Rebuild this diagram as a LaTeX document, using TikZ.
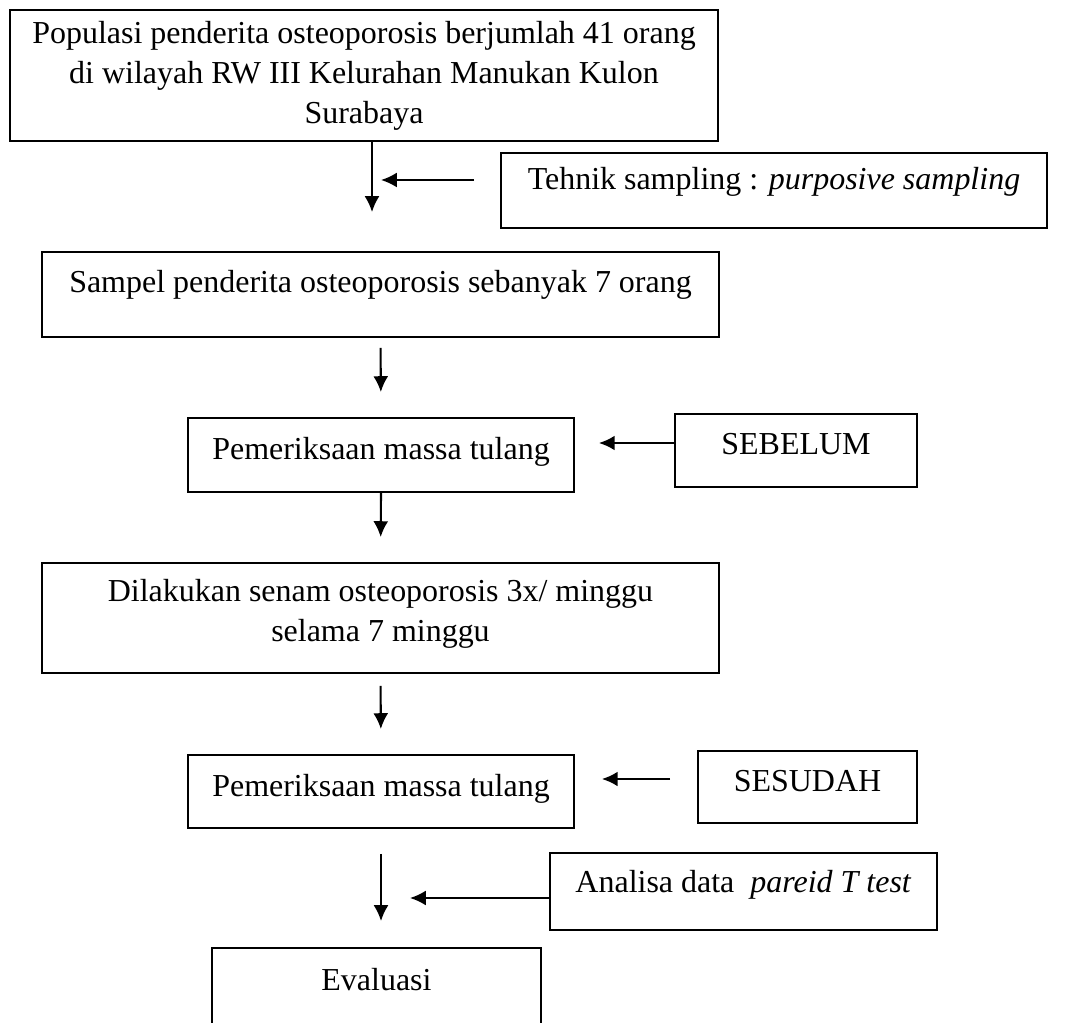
\documentclass[tikz,border=0pt]{standalone}
\usepackage{fontspec}
\setmainfont{Liberation Serif}
\usetikzlibrary{arrows.meta}
\begin{document}
\begin{tikzpicture}[x=0.02cm, y=-0.02cm]
  \tikzstyle{box}=[draw=black, line width=1.1pt, align=center, inner sep=0pt, text depth=7pt, font={\fontsize{18.2}{22.7}\selectfont}]
  \tikzstyle{arr}=[line width=1.2pt, -{Latex[length=9pt, width=8.5pt]}]
  \useasboundingbox (0,0) rectangle (1065,1023);
  \clip (0,0) rectangle (1065,1023);
  \node[box, minimum width=14.16cm, minimum height=2.62cm, text depth=3.5pt] (pop) at (364,75.5)
    {Populasi penderita osteoporosis berjumlah 41 orang\\ di wilayah RW III Kelurahan Manukan Kulon\\ Surabaya};
  \node[box, minimum width=10.92cm, minimum height=1.5cm, text depth=14pt] (tehnik) at (774,190.5)
    {Tehnik sampling : \textit{purposive sampling}};
  \node[box, minimum width=13.54cm, minimum height=1.7cm, text depth=15pt] (sampel) at (380.5,294.5)
    {Sampel penderita osteoporosis sebanyak 7 orang};
  \node[box, minimum width=7.72cm, minimum height=1.48cm] (pem1) at (381,455) {Pemeriksaan massa tulang};
  \node[box, minimum width=4.84cm, minimum height=1.46cm] (sebelum) at (796,450.5) {SEBELUM};
  \node[box, minimum width=13.54cm, minimum height=2.2cm, text depth=9pt] (dil) at (380.5,618)
    {Dilakukan senam osteoporosis 3x/ minggu\\ selama 7 minggu};
  \node[box, minimum width=7.72cm, minimum height=1.46cm] (pem2) at (381,791.5) {Pemeriksaan massa tulang};
  \node[box, minimum width=4.38cm, minimum height=1.44cm] (sesudah) at (807.5,787) {SESUDAH};
  \node[box, minimum width=7.74cm, minimum height=1.54cm, text depth=11pt] (analisa) at (743.5,891.5)
    {Analisa data \ \textit{pareid T test}};
  \node[box, minimum width=6.58cm, minimum height=1.6cm, text depth=10pt] (eval) at (376.5,988) {Evaluasi};
  \coordinate (j1) at (372,180);
  \draw[arr, shorten >=0.78cm] (pop.south -| j1) -- (sampel.north -| j1);
  \draw[arr, shorten <=0.52cm, shorten >=0.18cm] (tehnik.west |- j1) -- (j1);
  \draw[arr, shorten <=0.2cm, shorten >=0.5cm] (sampel.south) -- (pem1.north);
  \draw[arr, shorten >=0.48cm] ([yshift=0.15cm]sebelum.west) -- ([yshift=0.15cm]sebelum.west -| pem1.east);
  \draw[arr, shorten >=0.5cm] (pem1.south) -- (dil.north);
  \draw[arr, shorten <=0.24cm, shorten >=0.5cm] (dil.south) -- (pem2.north);
  \draw[arr, shorten <=0.54cm, shorten >=0.54cm] ([yshift=0.16cm]sesudah.west) -- ([yshift=0.16cm]sesudah.west -| pem2.east);
  \draw[arr, shorten <=0.5cm, shorten >=0.52cm] (pem2.south) -- (pem2.south |- eval.north);
  \draw[arr, shorten >=0.58cm] ([yshift=-0.13cm]analisa.west) -- ([yshift=-0.13cm]analisa.west -| pem2.south);
\end{tikzpicture}
\end{document}
